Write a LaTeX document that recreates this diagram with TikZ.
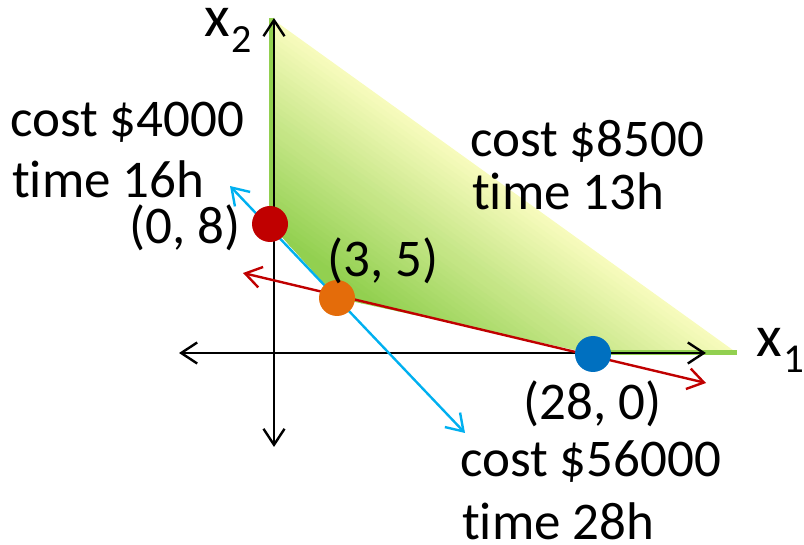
\documentclass[tikz,border=0pt]{standalone}
\usepackage{fontspec}
\setmainfont{Carlito}[Ligatures={NoCommon}]
\usetikzlibrary{arrows.meta}
\definecolor{dkgreen}{HTML}{92D050}
\definecolor{ltyellow}{HTML}{F7FBBC}
\definecolor{ptred}{HTML}{C00000}
\definecolor{ptorange}{HTML}{E46C0A}
\definecolor{ptblue}{HTML}{0070C0}
\definecolor{lnred}{HTML}{C00000}
\definecolor{lncyan}{HTML}{00B0F0}
\tikzset{
  barbtip/.tip={Straight Barb[length=16pt,width=21pt]},
  axisline/.style={line width=2.4pt, draw=black, barbtip-barbtip},
  redline/.style={line width=2.4pt, draw=lnred, barbtip-barbtip},
  cyanline/.style={line width=2.4pt, draw=lncyan, barbtip-barbtip},
  edgegreen/.style={line width=5pt, draw=dkgreen},
  dot/.style={circle, minimum size=36pt, inner sep=0pt, draw=none},
  lbl/.style={anchor=base west, inner sep=0pt, font=\fontsize{53}{53}\selectfont},
  axlbl/.style={anchor=base west, inner sep=0pt, font=\fontsize{59}{59}\selectfont},
}
\begin{document}
\begin{tikzpicture}[x=1pt,y=-1pt]
\useasboundingbox (0,0) rectangle (804,545);
% feasible region with gradient
\begin{scope}
  \clip (271,18) -- (737,353) -- (593,354) -- (337,298) -- (270,224) -- cycle;
  \begin{scope}[shift={(273,18)}, rotate=-35.66]
    \foreach \i in {0,...,44} {
      \pgfmathtruncatemacro\pct{min(100,\i*100/34)}
      \fill[dkgreen!\pct!ltyellow] (-80,\i*5) rectangle (700,\i*5+5.6);
    }
  \end{scope}
\end{scope}
\draw[edgegreen] (271,18) -- (271,224);
\draw[edgegreen] (593,353) -- (737,353);
% coordinates
\coordinate (xl) at (179,353);
\coordinate (xr) at (706,353);
\coordinate (yt) at (274,18);
\coordinate (yb) at (274,447);
\coordinate (c1) at (230,186);
\coordinate (c2) at (465,433);
\coordinate (r1) at (243,273);
\coordinate (r2) at (706,383);
% axes
\draw[axisline] (xl) -- (xr);
\draw[axisline] (yt) -- (yb);
% constraint lines
\draw[cyanline] (c1) -- (c2);
\draw[redline] (r1) -- (r2);
% points
\node[dot, fill=ptred] (p08) at (270,224) {};
\node[dot, fill=ptorange] (p35) at (337,298) {};
\node[dot, fill=ptblue] (p280) at (593,354) {};
% labels
\node[axlbl] (x2lbl) at (204,37) {x\hspace{2pt}\raisebox{-16pt}{\fontsize{40}{40}\selectfont 2}};
\node[axlbl] (x1lbl) at (756,357) {x\hspace{1.5pt}\raisebox{-16pt}{\fontsize{41}{41}\selectfont 1}};
\node[lbl] (cA) at (10,137) {cost \$4000};
\node[lbl] (tA) at (12,198) {time 16h};
\node[lbl] (pA) at (129,244) {(0, 8)};
\node[lbl] (pB) at (327,277) {(3, 5)};
\node[lbl] (cB) at (470,157) {cost \$8500};
\node[lbl] (tB) at (472,210) {time 13h};
\node[lbl] (pC) at (523,420) {(28, 0)};
\node[lbl] (cC) at (460,477) {cost \$56000};
\node[lbl] (tC) at (462,539) {time 28h};
\end{tikzpicture}
\end{document}
